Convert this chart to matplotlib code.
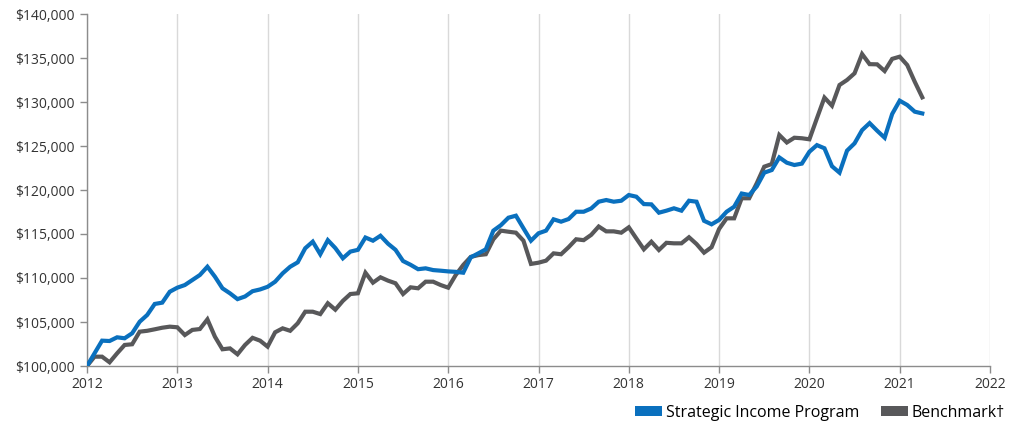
import numpy as np
import matplotlib
matplotlib.use("Agg")
import matplotlib.pyplot as plt
from matplotlib.patches import Patch
from matplotlib.ticker import FuncFormatter

start_year = 2012
year_ticks = list(range(2012, 2023))
y_ticks = [100000, 105000, 110000, 115000, 120000, 125000, 130000, 135000, 140000]

strategic_k = [
    100.0, 101.44, 102.88, 102.84, 103.26, 103.15, 103.72, 105.03, 105.8, 107.05, 107.2, 108.44,
    108.9, 109.2, 109.77, 110.34, 111.28, 110.15, 108.83, 108.26, 107.6, 107.9, 108.5, 108.7,
    109.0, 109.58, 110.53, 111.28, 111.78, 113.38, 114.13, 112.7, 114.3, 113.4, 112.24, 113.0,
    113.2, 114.6, 114.24, 114.8, 113.9, 113.2, 111.93, 111.5, 111.0, 111.1, 110.9, 110.83,
    110.75, 110.7, 110.6, 112.35, 112.8, 113.26, 115.38, 116.0, 116.85, 117.08, 115.65, 114.24,
    115.08, 115.38, 116.67, 116.4, 116.7, 117.53, 117.53, 117.9, 118.67, 118.86, 118.67, 118.78,
    119.43, 119.24, 118.4, 118.37, 117.42, 117.65, 117.92, 117.65, 118.78, 118.67, 116.5, 116.1,
    116.6, 117.53, 118.1, 119.6, 119.43, 120.4, 121.97, 122.27, 123.7, 123.1, 122.84, 123.0,
    124.35, 125.1, 124.74, 122.7, 121.97, 124.47, 125.3, 126.8, 127.6, 126.74, 125.94, 128.64,
    130.15, 129.66, 128.9, 128.7,
]

benchmark_k = [
    100.0, 101.06, 101.06, 100.42, 101.44, 102.39, 102.47, 103.9, 104.0, 104.17, 104.35, 104.47,
    104.4, 103.52, 104.1, 104.2, 105.3, 103.33, 101.9, 102.0, 101.33, 102.39, 103.2, 102.88,
    102.2, 103.83, 104.28, 104.0, 104.85, 106.17, 106.17, 105.9, 107.13, 106.4, 107.4, 108.18,
    108.26, 110.6, 109.47, 110.08, 109.7, 109.4, 108.18, 108.94, 108.83, 109.58, 109.58, 109.2,
    108.9, 110.34, 111.48, 112.4, 112.6, 112.7, 114.4, 115.38, 115.26, 115.15, 114.24, 111.6,
    111.74, 111.97, 112.8, 112.7, 113.5, 114.4, 114.3, 114.9, 115.85, 115.3, 115.3, 115.15,
    115.76, 114.5, 113.26, 114.12, 113.18, 114.0, 113.94, 113.94, 114.63, 113.86, 112.88, 113.5,
    115.57, 116.78, 116.78, 119.06, 119.06, 120.76, 122.65, 122.95, 126.25, 125.4, 125.94, 125.88,
    125.76, 128.15, 130.5, 129.58, 131.93, 132.5, 133.26, 135.45, 134.3, 134.28, 133.52, 134.9,
    135.15, 134.2, 132.3, 130.53,
]

series_names = ["Strategic Income Program", "Benchmark\u2020"]
colors = ["#0a70be", "#58585a"]

plt.rcParams['font.family'] = ['Open Sans', 'DejaVu Sans']

x_strat = start_year + np.arange(len(strategic_k)) / 12.0
x_bench = start_year + np.arange(len(benchmark_k)) / 12.0
y_strat = np.array(strategic_k) * 1000
y_bench = np.array(benchmark_k) * 1000

fig = plt.figure(figsize=(10.16, 4.25), dpi=100)
ax = fig.add_axes([87/1016, 59/425, (990-87)/1016, (366-14)/425])

ax.plot(x_bench, y_bench, color=colors[1], lw=3.0, solid_joinstyle='miter', zorder=3)
ax.plot(x_strat, y_strat, color=colors[0], lw=3.0, solid_joinstyle='miter', zorder=4)

ax.set_xlim(2012, 2022)
ax.set_ylim(100000, 140000)
ax.set_xticks(year_ticks)
ax.set_xticklabels([str(y) for y in year_ticks])
ax.set_yticks(y_ticks)
ax.yaxis.set_major_formatter(FuncFormatter(lambda v, p: f"${v:,.0f}"))

ax.grid(axis='x', color='#d9d9d9', lw=1)
ax.grid(axis='y', visible=False)
ax.set_axisbelow(True)
for s in ['top', 'right']:
    ax.spines[s].set_visible(False)
for s in ['left', 'bottom']:
    ax.spines[s].set_color('#8c8c8c')
    ax.spines[s].set_linewidth(1)
ax.tick_params(axis='both', colors='#8c8c8c', labelcolor='#333333', labelsize=10, length=5, width=1)
ax.tick_params(axis='y', pad=4)
ax.tick_params(axis='x', pad=3)

handles = [Patch(facecolor=colors[0]), Patch(facecolor=colors[1])]
fig.legend(handles, series_names, loc='center right',
           bbox_to_anchor=(1 - 11/1016, 12/425), ncol=2,
           frameon=False, fontsize=11.5, handlelength=1.7, handleheight=0.56,
           handletextpad=0.25, columnspacing=1.3, borderaxespad=0, borderpad=0)

fig.savefig("out.png", dpi=100)
